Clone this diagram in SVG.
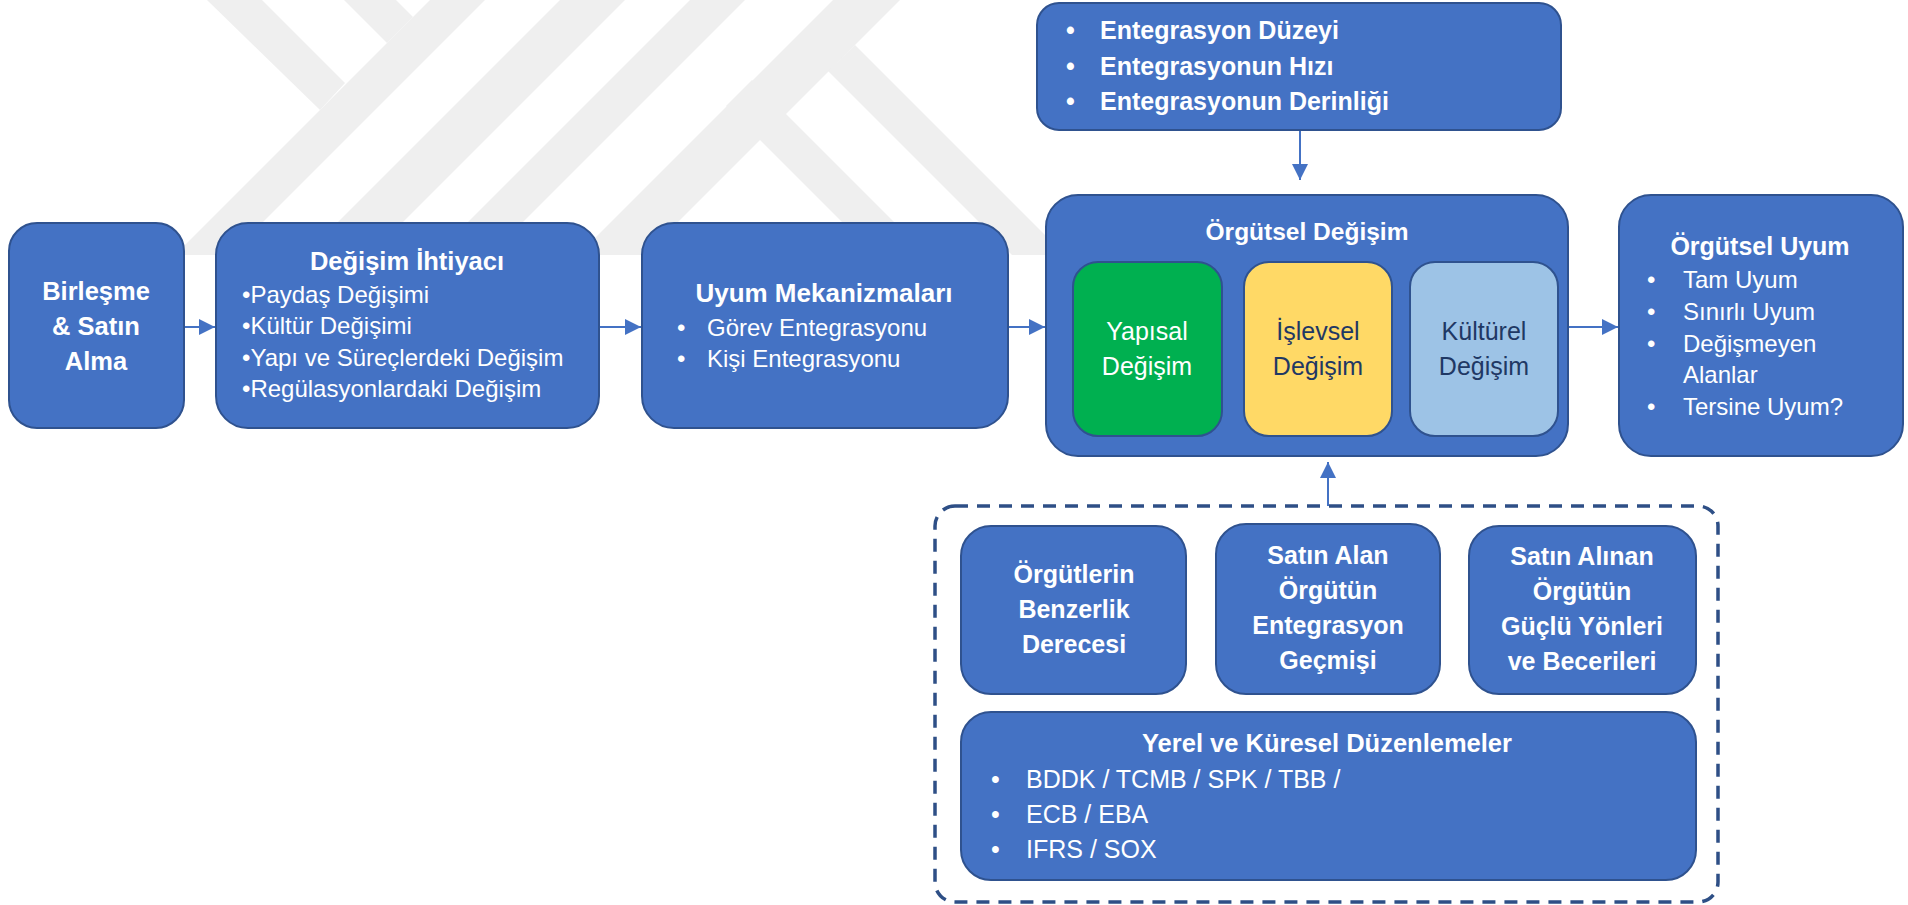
<svg xmlns="http://www.w3.org/2000/svg" width="1908" height="905" viewBox="0 0 1908 905">
<defs>
<style>
.bg{fill:#ffffff}
.wm{fill:#efefef}
.box{fill:#4472C4;stroke:#2F528F;stroke-width:2}
.grn{fill:#00B050;stroke:#2F528F;stroke-width:2}
.yel{fill:#FFD966;stroke:#2F528F;stroke-width:2}
.lbl{fill:#9DC3E6;stroke:#2F528F;stroke-width:2}
.dash{fill:none;stroke:#2E4F86;stroke-width:3.5;stroke-dasharray:13 9}
.conn{stroke:#4472C4;stroke-width:2;fill:none}
text{font-family:"Liberation Sans",Arial,sans-serif;fill:#ffffff}
.b{font-weight:bold}
.c{text-anchor:middle}
.dk{fill:#1F3864}
</style>
<marker id="ah" viewBox="0 0 16 16" refX="16" refY="8" markerWidth="16" markerHeight="16" markerUnits="userSpaceOnUse" orient="auto">
<path d="M0,0 L16,8 L0,16 Z" fill="#4472C4"/>
</marker>
</defs>
<rect class="bg" x="0" y="0" width="1908" height="905"/>
<g id="watermark">
<polygon class="wm" points="207,0 262,0 345,83 320,110"/>
<polygon class="wm" points="344,0 396,0 413,17 387,43"/>
<polygon class="wm" points="430,0 485,0 230,255 175,255"/>
<polygon class="wm" points="560,0 625,0 370,255 305,255"/>
<polygon class="wm" points="690,0 745,0 490,255 435,255"/>
<polygon class="wm" points="833,0 900,0 645,255 578,255"/>
<polygon class="wm" points="855,45 1065,255 1012,255 828,71"/>
<polygon class="wm" points="752,80 927,255 875,255 726,106"/>
</g>
<g id="connectors">
<line class="conn" x1="184" y1="327" x2="215" y2="327" marker-end="url(#ah)"/>
<line class="conn" x1="600" y1="327" x2="641" y2="327" marker-end="url(#ah)"/>
<line class="conn" x1="1008" y1="327" x2="1045" y2="327" marker-end="url(#ah)"/>
<line class="conn" x1="1568" y1="327" x2="1618" y2="327" marker-end="url(#ah)"/>
<line class="conn" x1="1300" y1="130" x2="1300" y2="180" marker-end="url(#ah)"/>
<line class="conn" x1="1328" y1="506" x2="1328" y2="462" marker-end="url(#ah)"/>
</g>
<g id="n-birlesme">
<rect class="box" x="9" y="223" width="175" height="205" rx="28"/>
<text class="b c" x="96" y="300" font-size="25.5">Birleşme</text>
<text class="b c" x="96" y="335" font-size="25.5">&amp; Satın</text>
<text class="b c" x="96" y="370" font-size="25.5">Alma</text>
</g>
<g id="n-degisim-ihtiyaci">
<rect class="box" x="216" y="223" width="383" height="205" rx="32"/>
<text class="b c" x="407" y="270" font-size="25.5">Değişim İhtiyacı</text>
<text x="242" y="303" font-size="24">•Paydaş Değişimi</text>
<text x="242" y="334" font-size="24">•Kültür Değişimi</text>
<text x="242" y="366" font-size="24">•Yapı ve Süreçlerdeki Değişim</text>
<text x="242" y="397" font-size="24">•Regülasyonlardaki Değişim</text>
</g>
<g id="n-uyum-mekanizmalari">
<rect class="box" x="642" y="223" width="366" height="205" rx="32"/>
<text class="b c" x="824" y="302" font-size="26">Uyum Mekanizmaları</text>
<text x="677" y="336" font-size="24">•</text>
<text x="707" y="336" font-size="24">Görev Entegrasyonu</text>
<text x="677" y="367" font-size="24">•</text>
<text x="707" y="367" font-size="24">Kişi Entegrasyonu</text>
</g>
<g id="n-entegrasyon">
<rect class="box" x="1037" y="3" width="524" height="127" rx="22"/>
<text class="b" x="1066" y="39" font-size="25">•</text>
<text class="b" x="1100" y="39" font-size="25">Entegrasyon Düzeyi</text>
<text class="b" x="1066" y="75" font-size="25">•</text>
<text class="b" x="1100" y="75" font-size="25">Entegrasyonun Hızı</text>
<text class="b" x="1066" y="110" font-size="25">•</text>
<text class="b" x="1100" y="110" font-size="25">Entegrasyonun Derinliği</text>
</g>
<g id="n-orgutsel-degisim">
<rect class="box" x="1046" y="195" width="522" height="261" rx="32"/>
<text class="b c" x="1307" y="240" font-size="24.5">Örgütsel Değişim</text>
</g>
<g id="n-yapisal">
<rect class="grn" x="1073" y="262" width="149" height="174" rx="25"/>
<text class="c" x="1147" y="340" font-size="25">Yapısal</text>
<text class="c" x="1147" y="375" font-size="25">Değişim</text>
</g>
<g id="n-islevsel">
<rect class="yel" x="1244" y="262" width="148" height="174" rx="25"/>
<text class="c dk" x="1318" y="340" font-size="25">İşlevsel</text>
<text class="c dk" x="1318" y="375" font-size="25">Değişim</text>
</g>
<g id="n-kulturel">
<rect class="lbl" x="1410" y="262" width="148" height="174" rx="25"/>
<text class="c dk" x="1484" y="340" font-size="25">Kültürel</text>
<text class="c dk" x="1484" y="375" font-size="25">Değişim</text>
</g>
<g id="n-orgutsel-uyum">
<rect class="box" x="1619" y="195" width="284" height="261" rx="32"/>
<text class="b c" x="1760" y="255" font-size="25">Örgütsel Uyum</text>
<text x="1647" y="288" font-size="24">•</text>
<text x="1683" y="288" font-size="24">Tam Uyum</text>
<text x="1647" y="320" font-size="24">•</text>
<text x="1683" y="320" font-size="24">Sınırlı Uyum</text>
<text x="1647" y="352" font-size="24">•</text>
<text x="1683" y="352" font-size="24">Değişmeyen</text>
<text x="1683" y="383" font-size="24">Alanlar</text>
<text x="1647" y="415" font-size="24">•</text>
<text x="1683" y="415" font-size="24">Tersine Uyum?</text>
</g>
<g id="n-faktorler">
<rect class="dash" x="935" y="506" width="783" height="396" rx="20"/>
</g>
<g id="n-benzerlik">
<rect class="box" x="961" y="526" width="225" height="168" rx="30"/>
<text class="b c" x="1074" y="583" font-size="25">Örgütlerin</text>
<text class="b c" x="1074" y="618" font-size="25">Benzerlik</text>
<text class="b c" x="1074" y="653" font-size="25">Derecesi</text>
</g>
<g id="n-satin-alan">
<rect class="box" x="1216" y="524" width="224" height="170" rx="30"/>
<text class="b c" x="1328" y="564" font-size="25">Satın Alan</text>
<text class="b c" x="1328" y="599" font-size="25">Örgütün</text>
<text class="b c" x="1328" y="634" font-size="25">Entegrasyon</text>
<text class="b c" x="1328" y="669" font-size="25">Geçmişi</text>
</g>
<g id="n-satin-alinan">
<rect class="box" x="1469" y="526" width="227" height="168" rx="30"/>
<text class="b c" x="1582" y="565" font-size="25">Satın Alınan</text>
<text class="b c" x="1582" y="600" font-size="25">Örgütün</text>
<text class="b c" x="1582" y="635" font-size="25">Güçlü Yönleri</text>
<text class="b c" x="1582" y="670" font-size="25">ve Becerileri</text>
</g>
<g id="n-duzenlemeler">
<rect class="box" x="961" y="712" width="735" height="168" rx="30"/>
<text class="b c" x="1327" y="752" font-size="25.5">Yerel ve Küresel Düzenlemeler</text>
<text x="991" y="788" font-size="25">•</text>
<text x="1026" y="788" font-size="25">BDDK / TCMB / SPK / TBB /</text>
<text x="991" y="823" font-size="25">•</text>
<text x="1026" y="823" font-size="25">ECB / EBA</text>
<text x="991" y="858" font-size="25">•</text>
<text x="1026" y="858" font-size="25">IFRS / SOX</text>
</g>
</svg>
